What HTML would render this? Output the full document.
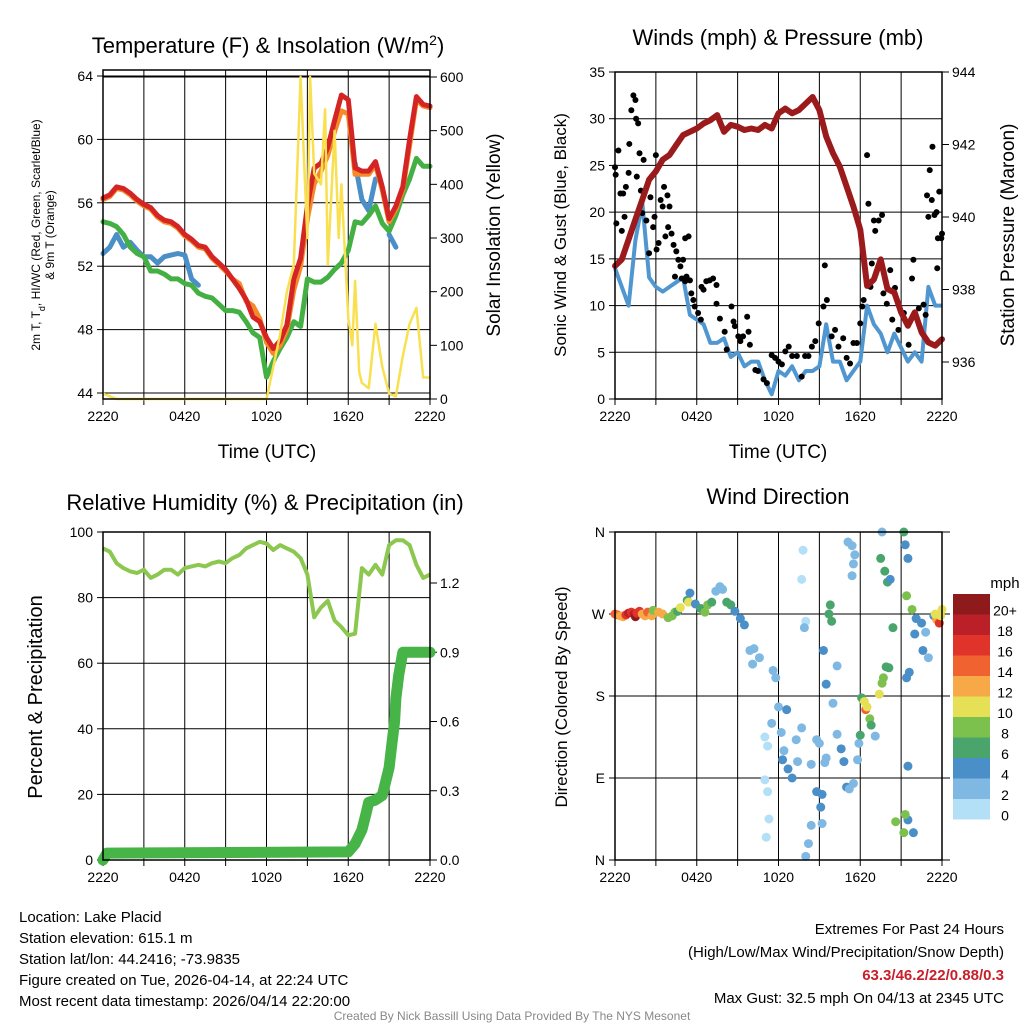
<!DOCTYPE html>
<html><head><meta charset="utf-8">
<style>
html,body{margin:0;padding:0;background:#fff;}
svg{display:block;font-family:"Liberation Sans",sans-serif;}
</style></head>
<body>
<svg id="c" width="1024" height="1024" viewBox="0 0 1024 1024" xmlns="http://www.w3.org/2000/svg">
<rect width="1024" height="1024" fill="#fff"/>
<g id="p1"></g>
<g id="p2"></g>
<g id="p3"></g>
<g id="p4"></g>
<text x="268" y="53" font-size="22" text-anchor="middle">Temperature (F) &amp; Insolation (W/m<tspan baseline-shift="super" font-size="14">2</tspan>)</text>
<text x="778" y="45" font-size="22" text-anchor="middle">Winds (mph) &amp; Pressure (mb)</text>
<text x="265" y="510" font-size="22" text-anchor="middle">Relative Humidity (%) &amp; Precipitation (in)</text>
<text x="778" y="504" font-size="22" text-anchor="middle">Wind Direction</text>
<text transform="translate(40,235) rotate(-90)" font-size="12" text-anchor="middle">2m T, T<tspan baseline-shift="sub" font-size="9">d</tspan>, HI/WC (Red, Green, Scarlet/Blue)</text>
<text transform="translate(54,235) rotate(-90)" font-size="12" text-anchor="middle">&amp; 9m T (Orange)</text>
<text transform="translate(500,235) rotate(-90)" font-size="19" text-anchor="middle">Solar Insolation (Yellow)</text>
<text x="267" y="458" font-size="19" text-anchor="middle">Time (UTC)</text>
<text transform="translate(566,235) rotate(-90)" font-size="17" text-anchor="middle">Sonic Wind &amp; Gust (Blue, Black)</text>
<text transform="translate(1014,235) rotate(-90)" font-size="19" text-anchor="middle">Station Pressure (Maroon)</text>
<text x="778" y="458" font-size="19" text-anchor="middle">Time (UTC)</text>
<text transform="translate(42,697) rotate(-90)" font-size="20" text-anchor="middle">Percent &amp; Precipitation</text>
<text transform="translate(567,697) rotate(-90)" font-size="17" text-anchor="middle">Direction (Colored By Speed)</text>
<text x="1005" y="588" font-size="15" text-anchor="middle">mph</text>
<g font-size="15">
<text x="19" y="922">Location: Lake Placid</text>
<text x="19" y="943">Station elevation: 615.1 m</text>
<text x="19" y="964">Station lat/lon: 44.2416; -73.9835</text>
<text x="19" y="985">Figure created on Tue, 2026-04-14, at 22:24 UTC</text>
<text x="19" y="1006">Most recent data timestamp: 2026/04/14 22:20:00</text>
</g>
<g font-size="15" text-anchor="end">
<text x="1004" y="934">Extremes For Past 24 Hours</text>
<text x="1004" y="957">(High/Low/Max Wind/Precipitation/Snow Depth)</text>
<text x="1004" y="980" fill="#c8202a" font-weight="bold">63.3/46.2/22/0.88/0.3</text>
<text x="1004" y="1003">Max Gust: 32.5 mph On 04/13 at 2345 UTC</text>
</g>
<text x="512" y="1020" font-size="12" fill="#888" text-anchor="middle">Created By Nick Bassill Using Data Provided By The NYS Mesonet</text>
</svg>
<script>
const NS='http://www.w3.org/2000/svg';
// ---------- data ----------
const hours=[0,0.5,1,1.5,2,2.5,3,3.5,4,4.5,5,5.5,6,6.5,7,7.5,8,8.5,9,9.5,10,10.5,11,11.5,12,12.5,13,13.5,14,14.5,15,15.5,16,16.5,17,17.5,18,18.5,19,19.5,20,20.5,21,21.5,22,22.5,23,23.5,24];
const tempRed=[56.3,56.5,57.0,56.9,56.6,56.2,55.9,55.7,55.2,54.9,54.8,54.5,54.0,53.7,53.3,53.2,52.6,52.2,51.8,51.2,50.6,49.9,48.8,48.5,47.5,46.8,47.3,48.3,51.2,52.5,55.8,58.2,58.5,59.5,61.2,62.8,62.5,58.2,58.0,58.0,58.6,57.0,55.0,55.8,57.0,60.0,62.7,62.2,62.1];
const tempOrange=[56.2,56.4,56.9,56.8,56.5,56.1,55.8,55.6,55.1,54.8,54.7,54.4,53.9,53.6,53.2,53.1,52.5,52.1,51.7,51.2,50.9,49.8,49.5,48.7,47.2,46.5,47.0,48.0,50.5,52.0,55.0,57.2,58.0,59.0,60.5,61.8,61.6,57.8,57.8,57.8,58.4,56.8,54.8,55.6,56.8,59.6,62.5,62.1,62.0];
const tempGreen=[54.8,54.7,54.5,54.0,53.2,52.8,52.6,51.7,51.7,51.5,51.2,51.2,50.9,50.8,50.3,50.1,50.0,49.6,49.2,49.2,49.1,48.5,47.8,47.5,45.0,46.0,46.8,47.5,48.5,48.2,51.2,51.0,51.0,51.3,51.8,52.2,53.0,54.8,54.7,55.2,55.8,54.7,54.2,55.2,56.5,57.5,58.8,58.3,58.3];
const tempBlue=[52.8,53.2,54.0,53.2,53.5,53.0,52.6,52.6,52.2,52.6,52.7,52.8,52.7,51.2,50.8,null,null,50.4,null,49.9,null,null,null,null,null,null,45.2,null,null,null,null,56.5,null,null,null,null,null,58.5,56.2,55.5,57.5,null,54.0,53.2,null,null,null,null,null];
const solarT=[0,0.5,1,12,12.5,13,13.5,14,14.5,14.8,15,15.2,15.5,16,16.3,16.5,17,17.3,17.5,18,18.3,18.5,18.8,19,19.5,20,20.5,21,21.5,22,22.5,23,23.5,24];
const solarV=[10,5,0,0,60,120,200,250,600,420,300,600,420,400,540,250,500,300,400,150,100,220,50,30,20,140,60,10,5,80,140,170,40,40];
const pressure=[938.65,938.83,939.38,939.93,940.48,941.03,941.26,941.58,941.71,941.99,942.26,942.35,942.44,942.58,942.67,942.81,942.35,942.54,942.49,942.40,942.44,942.40,942.54,942.44,942.86,942.99,942.86,942.95,943.13,943.31,942.95,942.22,941.76,941.39,940.84,940.29,939.65,938.10,938.28,938.83,938.01,937.92,937.37,937.0,937.37,936.82,936.54,936.45,936.63];
const windSpeed=[14,12,10,17,21,13,12,11.5,12,12.5,13,9,8.5,8,6,6,6.5,4.5,5,3.5,4,4,2,0.5,3,2.5,3.5,2,3,3,3.5,8,4,4,2,3,4,10,8,7,5,7,5.5,4,5,4,12,10,10];
const gustT=[0,0.05,0.25,0.1,0.4,0.5,0.6,0.7,0.8,1.0,1.05,1.2,1.35,1.5,1.55,1.7,1.6,1.8,1.9,2.0,2.1,2.2,2.3,2.5,2.6,2.8,2.9,3.0,3.05,3.2,3.35,3.5,3.6,3.85,4.0,3.9,3.7,4.15,4.3,4.5,4.65,4.8,5.0,5.15,5.4,4.4,4.9,5.15,5.25,5.5,5.6,5.75,5.85,6.1,6.3,6.35,6.5,6.7,6.95,7.2,7.45,7.45,7.7,8.05,8.2,8.55,8.7,8.8,9.05,9.2,9.4,9.7,9.8,9.9,10.3,10.5,10.9,11.15,11.5,11.75,12,12.25,12.5,12.75,13,13.35,13.7,13.95,14.2,14.45,14.7,14.95,15.3,15.4,15.55,15.9,16.15,16.4,16.75,17,17.25,17.5,17.75,18,18.15,18.25,18.5,18.6,18.75,18.85,19,19.1,19.35,19.6,19.7,19.95,20.2,20.35,20.55,20.8,21.2,21.55,21.8,21.9,22.3,22.65,22.8,22.9,23,23.1,23.25,23.3,23.45,23.6,23.65,23.7,23.8,23.95,24];
const gustV=[24.8,24,26.6,18.8,22,18,22,19.5,22.7,24.2,27.3,30.9,32.5,32,30,29.5,23.8,26.3,22.3,19.9,25.6,22.3,19.1,15.6,21.6,18.4,19.5,26.1,16,16.7,21.3,20.6,22.7,21.8,20.6,18.4,17.4,17.7,16.5,15.8,14.9,14.2,14.9,17.2,17.4,13.1,12.9,12.6,13.1,12.7,11.3,10.6,9.9,9.2,8.5,12.0,11.7,12.6,12.7,12.9,12.2,10.2,8.6,7.2,5.3,9.9,8.3,7.8,6.7,6.2,6.7,8.8,7.2,5.8,3.1,3,2.1,1.7,4.7,4.4,4,3.7,5.1,5.6,4.6,4.6,2.4,4.6,4.6,5.6,6.2,8.1,9.9,14.3,10.6,6.7,7.4,5.6,6.5,4.4,3.8,6,6,8.1,9.9,10.6,26.1,20.9,12,14.5,19.1,18,19.1,19.7,11.3,10.2,13.8,8.5,11.9,7.4,9.2,5.8,12.9,14.9,9.7,10.1,9,21.8,19.5,24.5,21.3,27,19.7,20,14,17.2,22.2,17.2,17.7];
const rh=[95,94,90.5,89,88,87.5,88.5,86,87,88.5,88.5,87,89,89.5,90,89.5,90.5,91,90.5,92,93,95,96,97,96.5,94.5,96,95,94,92,87,74,77,79,73,71,68.5,69,89,87,90,87,96,97.5,97.5,96,90,86,87];
const precipT=[0,0.3,18,18.5,19,19.3,19.5,20,20.5,21,21.2,21.4,21.5,21.7,22,24];
const precipV=[0,0.03,0.035,0.07,0.13,0.2,0.25,0.26,0.28,0.4,0.5,0.6,0.7,0.8,0.9,0.9];
const dirT=[0,0.2,0.4,0.6,0.8,1,1.2,1.4,1.5,1.6,1.8,2,2.2,2.4,2.7,2.8,3.2,3.5,3.9,4.2,4.4,4.6,4.8,5.3,5.5,5.4,5.9,6.3,6.6,6.8,7.1,7.4,7.7,7.9,8.2,8.5,8.8,9.2,9.5,9.9,10.2,10.1,10.6,11.6,11.8,11.5,12,12.2,12.6,12.4,11,11.2,11,11.2,11.3,11.1,12.3,12.7,13,13.4,13.7,13.3,13.8,13.7,14,13.9,14.4,14.8,15.0,15.4,14.8,15.1,14.4,14.2,14.0,15.2,15.5,15.2,15.5,15.3,16.3,16.0,15.9,15.7,15.8,16.3,16.6,16.8,17.0,17.2,17.5,17.9,17.8,18,18.1,18.3,18.4,18.5,18.7,18.8,17.1,17.4,17.5,17.6,17.4,19.1,19.4,19.6,19.7,19.9,20.1,19.6,19.5,20,19.8,20.2,20.4,21.2,21.3,21.5,21.4,21.5,21.5,21.3,21.2,20.6,21.9,21.4,21.6,21.8,22.1,22.0,22.5,22.6,22.8,23.0,23.4,23.6,23.8,23.9,24,23.5];
const dirDeg=[270,269,268,267,269,271,272,270,267,271,273,270,268,272,268,274,272,270,266,268,272,273,277,285,293,283,281,276,272,280,283,295,300,297,283,280,273,265,258,230,232,215,222,208,200,150,168,140,165,120,135,125,88,75,45,25,110,100,90,108,145,132,340,308,262,255,105,132,128,107,75,58,38,18,4,40,112,72,193,230,213,172,262,270,280,138,122,108,80,78,84,128,110,137,178,174,165,168,155,148,349,345,325,335,312,136,182,194,200,212,211,360,331,305,317,308,255,360,346,331,290,103,44,50,30,42,30,200,206,275,265,248,260,230,250,222,268,264,260,268,275,270];
const dirSpd=[15,14,13,13,17,18,17,19,20,16,17,12,12,14,13,9,13,12,9,9,8,7,10,7,5,11,5,7,8,8,7,3,3,3,6,6,5,5,5,3,3,3,3,3,3,3,3,3,5,3,1,1,1,1,1,1,5,5,5,3,3,3,1,1,1,3,3,3,3,3,5,5,2,3,3,2,3,5,5,5,3,3,6,6,7,3,5,5,5,2,2,3,3,6,6,10,14,10,8,6,3,3,3,2,3,3,10,8,8,6,6,3,6,6,6,5,6,6,5,5,8,4,4,8,8,8,5,4,4,9,5,5,5,5,3,3,4,13,16,11,10,10];
const timeTicks=['2220','0420','1020','1620','2220'];
const tempTicks=[44,48,52,56,60,64];
const solarTicks=[0,100,200,300,400,500,600];
const windTicks=[0,5,10,15,20,25,30,35];
const presTicks=[936,938,940,942,944];
const rhTicks=[0,20,40,60,80,100];
const precipTicks=['0.0','0.3','0.6','0.9','1.2'];
const dirTicks=['N','E','S','W','N'];
const cbLabels=['20+','18','16','14','12','10','8','6','4','2','0'];
const cbColors=['#8f1a1c','#bb1f27','#e0342a','#f0622f','#f7a847','#e5e055','#7cc04e','#4aa56d','#4a8fc8','#7fb9e3','#b3e0f7'];

// ---------- helpers ----------
function el(tag,attrs,parent){const e=document.createElementNS(NS,tag);for(const k in attrs)e.setAttribute(k,attrs[k]);parent.appendChild(e);return e;}
function lin(d0,d1,r0,r1){return v=>r0+(v-d0)*(r1-r0)/(d1-d0);}
const X0=103,X1=430,X2=615,X3=942;
function pathFrom(xs,ys,sx,sy){let d='',pen=false;for(let i=0;i<xs.length;i++){if(ys[i]===null||ys[i]===undefined){pen=false;continue;}d+=(pen?'L':'M')+sx(xs[i]).toFixed(1)+','+sy(ys[i]).toFixed(1);pen=true;}return d;}
function frame(g,x0,x1,y0,y1,sx){
  for(let h=0;h<=24;h+=3){const x=sx(h);const l=el('line',{x1:x,x2:x,y1:y0,y2:y1,stroke:'#000','stroke-width':1},g);
    el('line',{x1:x,x2:x,y1:y1,y2:y1+6,stroke:'#000','stroke-width':1},g);}
  for(let i=0;i<timeTicks.length;i++){const t=el('text',{x:sx(i*6),y:y1+22,'font-size':14,'text-anchor':'middle'},g);t.textContent=timeTicks[i];}
}
function border(g,x0,x1,y0,y1){const r=el('rect',{x:x0,y:y0,width:x1-x0,height:y1-y0,fill:'none',stroke:'#000','stroke-width':1.5},g);}
function hgrid(g,ticks,sy,x0,x1,left,labels,minor){
  ticks.forEach((v,i)=>{const y=sy(v);el('line',{x1:x0,x2:x1,y1:y,y2:y,stroke:'#000','stroke-width':1},g);
    const tx=left?x0-6:x1;el('line',{x1:tx,x2:tx+6,y1:y,y2:y,stroke:'#000'},g);
    const t=el('text',{x:left?x0-10:x1+10,y:y+5,'font-size':14,'text-anchor':left?'end':'start'},g);t.textContent=labels?labels[i]:v;});
}
function rticks(g,ticks,sy,x1,labels){ticks.forEach((v,i)=>{const y=sy(v);el('line',{x1:x1,x2:x1+7,y1:y,y2:y,stroke:'#000'},g);const t=el('text',{x:x1+10,y:y+5,'font-size':14},g);t.textContent=labels?labels[i]:v;});}

// ---------- panel 1 ----------
(function(){const g=document.getElementById('p1');
const sx=lin(0,24,X0,X1),sy=lin(44,64,393,76),sr=lin(0,600,399,77);
frame(g,X0,X1,70,399,sx);
hgrid(g,tempTicks,sy,X0,X1,true);
el('line',{x1:X0,x2:X1,y1:sr(600),y2:sr(600),stroke:'#000'},g);
rticks(g,solarTicks,sr,X1);
const series=[[tempBlue,'#4a8fc8',5],[tempGreen,'#44b044',5],[tempOrange,'#f58a2a',5],[tempRed,'#d42424',5]];
const names=['dewpoint-line','temp-green-line','temp-9m-line','temp-2m-line'];
series.forEach((s,i)=>{const p=el('path',{d:pathFrom(hours,s[0],sx,sy),fill:'none',stroke:s[1],'stroke-width':s[2],'stroke-linejoin':'round','stroke-linecap':'round'},g);});
const p=el('path',{d:pathFrom(solarT,solarV,sx,sr),fill:'none',stroke:'#f8e050','stroke-width':2.5,'stroke-linejoin':'round'},g);

border(g,X0,X1,70,399);})();

// ---------- panel 2 ----------
(function(){const g=document.getElementById('p2');
const sx=lin(0,24,X2,X3),sy=lin(0,35,399,72),sp=lin(936,944,362,72);
frame(g,X2,X3,72,399,sx);
hgrid(g,windTicks,sy,X2,X3,true);
rticks(g,presTicks,sp,X3);
const w=el('path',{d:pathFrom(hours,windSpeed,sx,sy),fill:'none',stroke:'#5096d0','stroke-width':4,'stroke-linejoin':'round'},g);

gustT.forEach((t,i)=>{const c=el('circle',{cx:sx(t),cy:sy(gustV[i]),r:3,fill:'#000'},g);});
const pr=el('path',{d:pathFrom(hours,pressure,sx,sp),fill:'none',stroke:'#9b1a1c','stroke-width':6,'stroke-linejoin':'round','stroke-linecap':'round'},g);

border(g,X2,X3,72,399);})();

// ---------- panel 3 ----------
(function(){const g=document.getElementById('p3');
const sx=lin(0,24,X0,X1),sy=lin(0,100,860,532),sp=lin(0,1.2,860,583);
frame(g,X0,X1,532,860,sx);
hgrid(g,rhTicks,sy,X0,X1,true);
rticks(g,[0,0.3,0.6,0.9,1.2],sp,X1,precipTicks);
const r=el('path',{d:pathFrom(hours,rh,sx,sy),fill:'none',stroke:'#8cc850','stroke-width':4,'stroke-linejoin':'round'},g);

const p=el('path',{d:pathFrom(precipT,precipV,sx,sp),fill:'none',stroke:'#46b446','stroke-width':11,'stroke-linejoin':'round','stroke-linecap':'round'},g);

border(g,X0,X1,532,860);})();

// ---------- panel 4 ----------
(function(){const g=document.getElementById('p4');
const sx=lin(0,24,X2,X3),sy=lin(0,360,860,532);
frame(g,X2,X3,532,860,sx);
hgrid(g,[0,90,180,270,360],sy,X2,X3,true,dirTicks);
[0,90,180,270,360].forEach(v=>el('line',{x1:X3,x2:X3+8,y1:sy(v),y2:sy(v),stroke:'#000'},g));
function col(s){let k=Math.min(10,Math.floor(s/2));return cbColors[10-k];}
dirT.forEach((t,i)=>{const c=el('circle',{cx:sx(t),cy:sy(dirDeg[i]),r:4.5,fill:col(dirSpd[i])},g);});
border(g,X2,X3,532,860);
const cb=el('g',{},g);
const bh=20.5;
cbColors.forEach((c,i)=>{el('rect',{x:953,y:594+i*bh,width:37,height:bh,fill:c},cb);
  const t=el('text',{x:1005,y:594+i*bh+bh*0.5+11,'font-size':14,'text-anchor':'middle'},cb);t.textContent=cbLabels[i];});
})();
</script>
</body></html>
